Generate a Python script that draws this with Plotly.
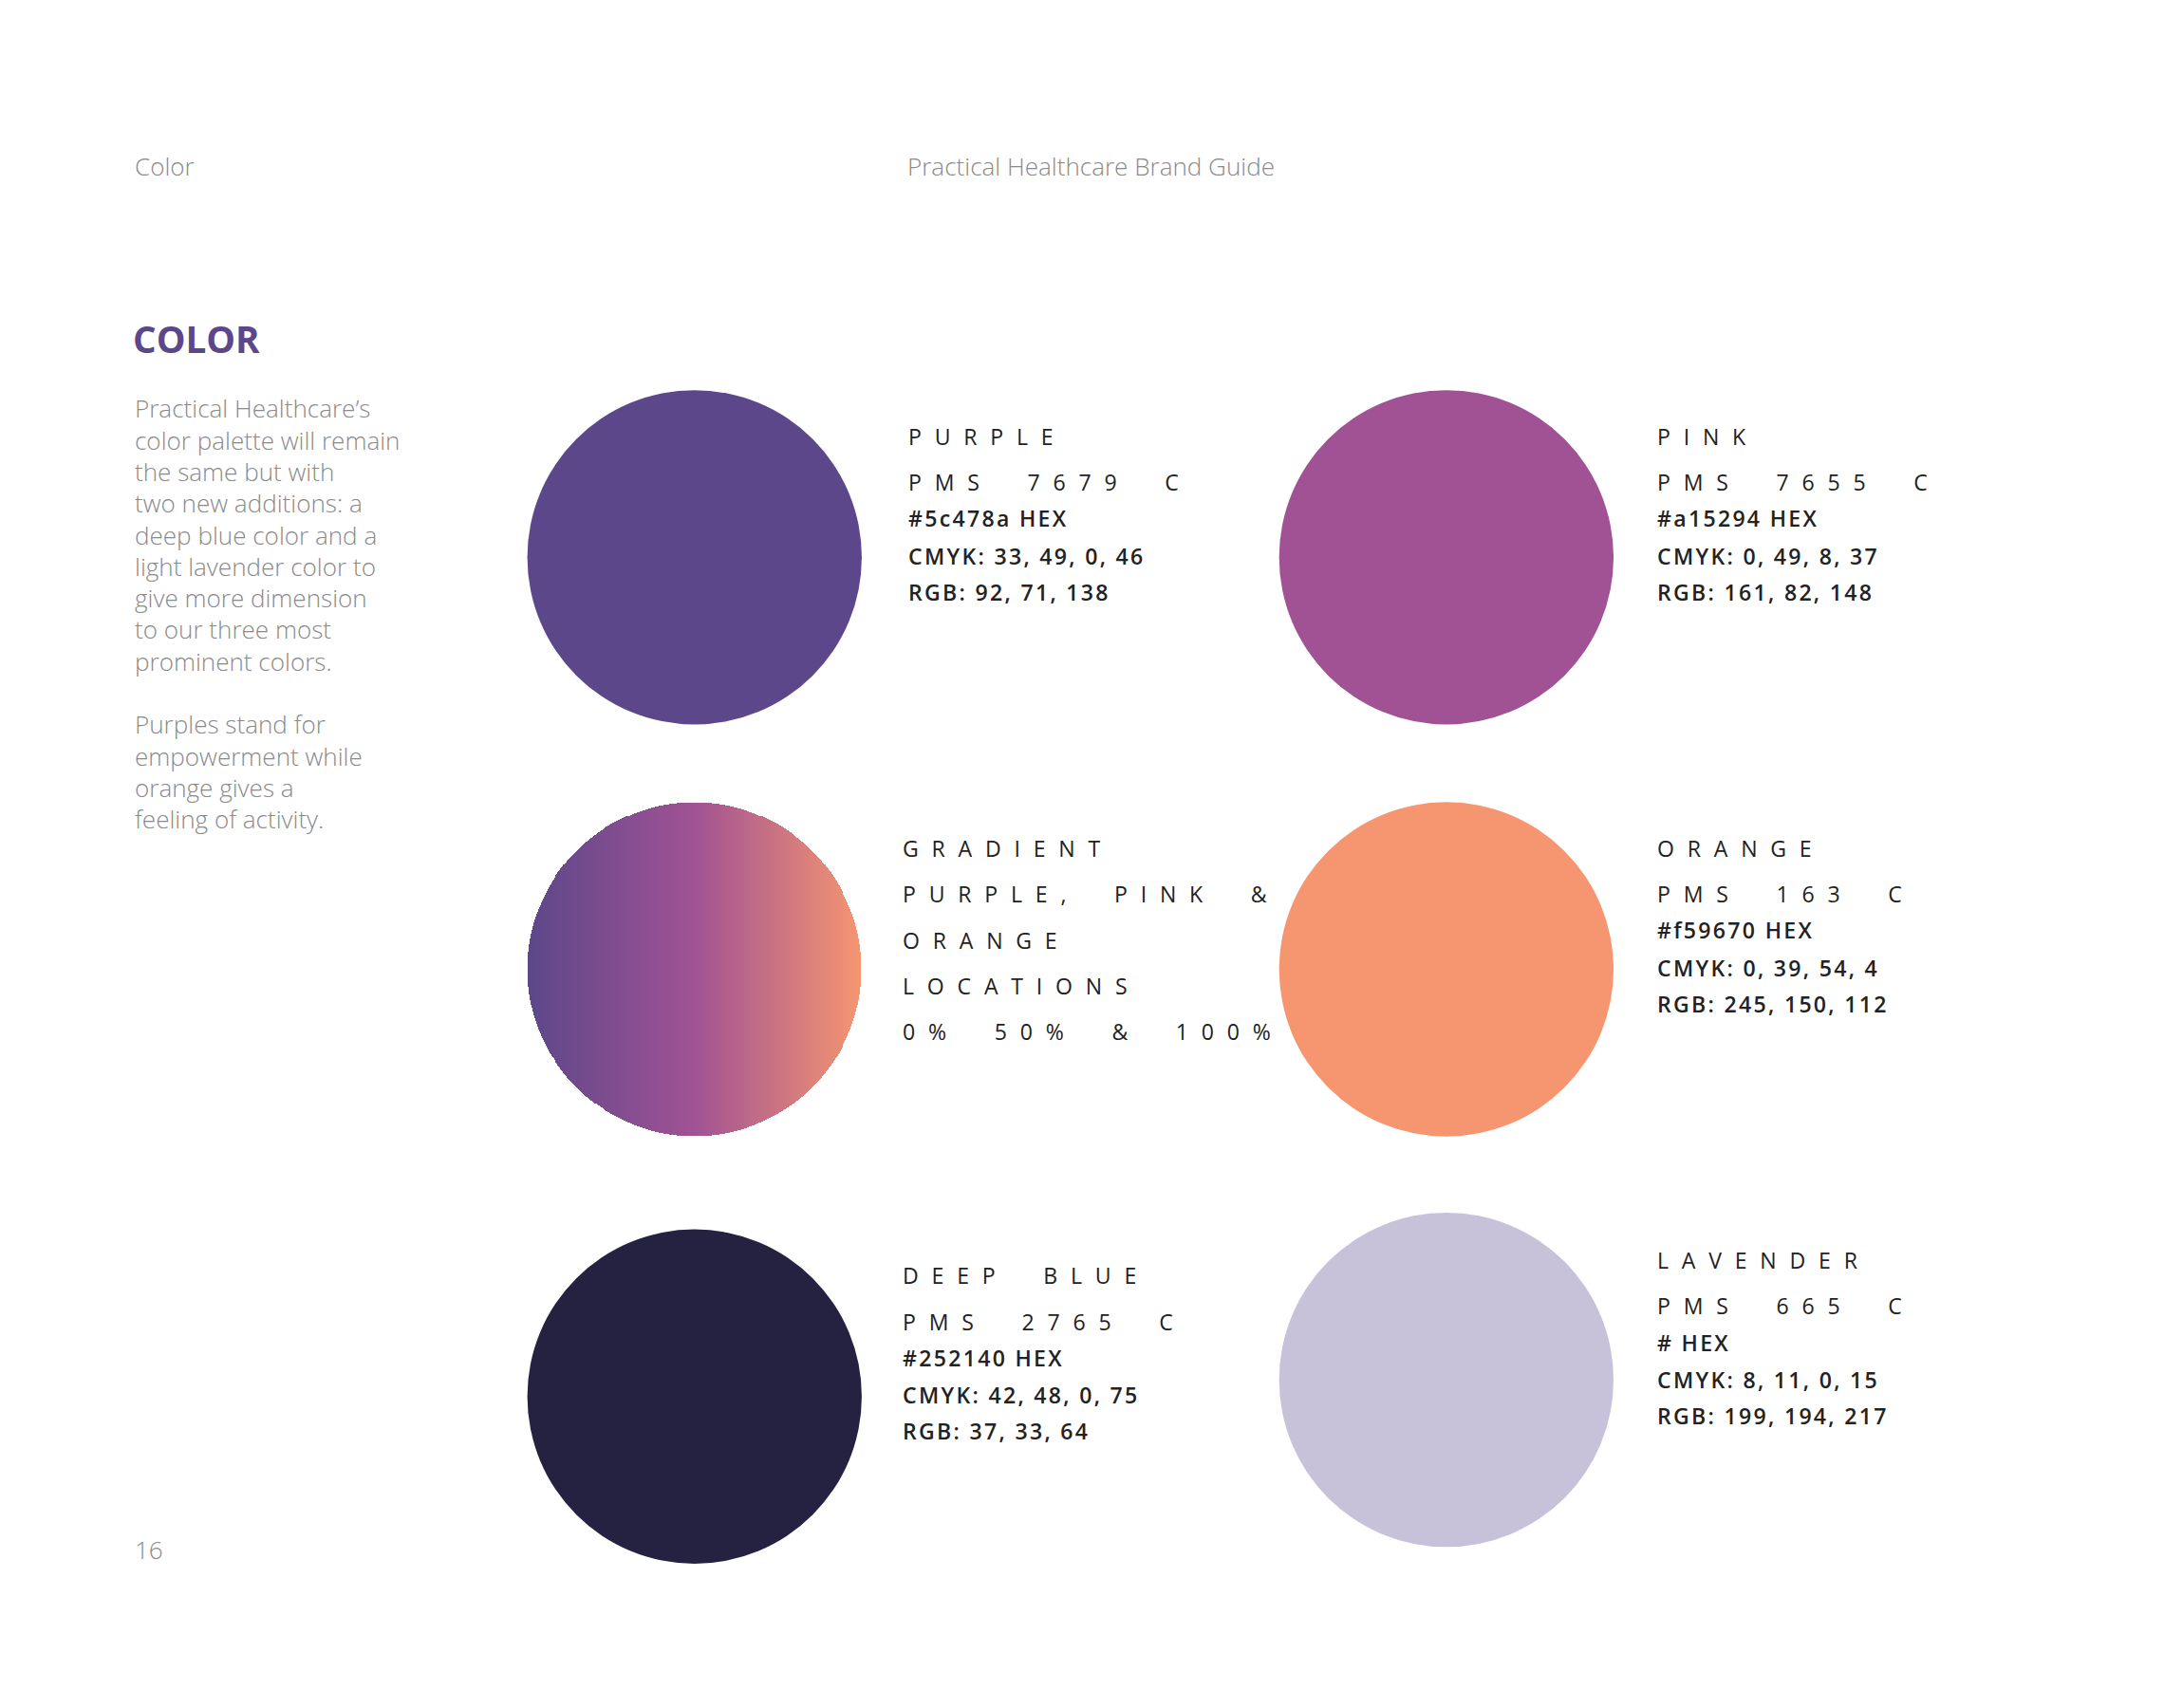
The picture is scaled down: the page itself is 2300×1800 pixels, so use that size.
import numpy as np
import plotly.graph_objects as go

# ---- data ----
swatch_names = ["PURPLE", "PINK", "GRADIENT", "ORANGE", "DEEP BLUE", "LAVENDER"]
swatch_colors = ["#5c478a", "#a15294", None, "#f59670", "#252140", "#c7c2d9"]
pms_lines = ["PMS 7679 C", "PMS 7655 C", "PURPLE, PINK &", "PMS 163 C", "PMS 2765 C", "PMS 665 C"]
hex_lines = ["#5c478a HEX", "#a15294 HEX", "ORANGE", "#f59670 HEX", "#252140 HEX", "# HEX"]
cmyk_lines = ["CMYK: 33, 49, 0, 46", "CMYK: 0, 49, 8, 37", "LOCATIONS", "CMYK: 0, 39, 54, 4",
              "CMYK: 42, 48, 0, 75", "CMYK: 8, 11, 0, 15"]
rgb_lines = ["RGB: 92, 71, 138", "RGB: 161, 82, 148", "0% 50% & 100%", "RGB: 245, 150, 112",
             "RGB: 37, 33, 64", "RGB: 199, 194, 217"]
gradient_stops = [(0.0, "#5c478a"), (0.5, "#a15294"), (1.0, "#f59670")]
body_lines = ["Practical Healthcare’s", "color palette will remain", "the same but with",
              "two new additions: a", "deep blue color and a", "light lavender color to",
              "give more dimension", "to our three most", "prominent colors."]
body_lines2 = ["Purples stand for", "empowerment while", "orange gives a", "feeling of activity."]

# ---- layout ----
S = 2300 / 1545
W, H = 1545, 1800 / S
def TX(x): return (x - 6.5) / 1.013
def TY(y): return (y - 5) / 1.015
centers = [(499, 400), (1038, 400), (499, 696), (1038, 696), (499, 1003), (1038, 991)]
R = 120 / 1.014
text_x = [655, 1192, 651, 1192, 651, 1192]
text_y0 = [313, 313, 609, 609, 916, 905]
grad_offsets = [0, 33, 66, 99, 132]
bold_offsets = [59, 86, 112]
FONT = "Open Sans"

def spaced(s):
    return "\u2009\u2009\u2009\u200A".join("\u2003" if c == " " else c for c in s)

def tracked(s):
    return "\u200A".join(s)

fig = go.Figure()
shapes = []
for (cx, cy), col in zip(centers, swatch_colors):
    if col is None:
        continue
    cx, cy = TX(cx), TY(cy)
    shapes.append(dict(type="circle", xref="x", yref="y", x0=cx - R, x1=cx + R,
                       y0=cy - R, y1=cy + R, fillcolor=col, line=dict(width=0), layer="below"))

gi = swatch_colors.index(None)
gcx, gcy = TX(centers[gi][0]), TY(centers[gi][1])
n = 360
xs = np.linspace(gcx - R, gcx + R, n)
ys = np.linspace(gcy - R, gcy + R, n)
XX, YY = np.meshgrid(xs, ys)
Z = (XX - (gcx - R)) / (2 * R)
Z = np.where((XX - gcx) ** 2 + (YY - gcy) ** 2 <= R * R, Z, np.nan)
fig.add_trace(go.Heatmap(x=xs, y=ys, z=Z, colorscale=[[p, c] for p, c in gradient_stops],
                         zmin=0, zmax=1, showscale=False, hoverinfo="skip"))

ann = []
def add(x, y, t, size, color, weight=400):
    ann.append(dict(x=TX(x), y=TY(y), xref="x", yref="y", text=t, showarrow=False, xanchor="left",
                    yanchor="middle", font=dict(size=size * S, color=color, family=FONT, weight=weight)))

grey = "#8a8a8a"
dark = "#222222"
add(96, 119, "Color", 17.5, grey, 300)
add(650, 119, "Practical Healthcare Brand Guide", 17.5, grey, 300)
add(95, 243, "COLOR", 26, "#5c478a", 700)
for i, l in enumerate(body_lines):
    add(96, 293 + i * 22.7, l, 17.5, grey, 300)
for i, l in enumerate(body_lines2):
    add(96, 520 + i * 22.7, l, 17.5, grey, 300)
add(96, 1113, "16", 17.5, grey, 300)

for i in range(6):
    x, y0 = text_x[i] - 4, text_y0[i]
    if swatch_colors[i] is None:
        rows = [swatch_names[i], pms_lines[i], hex_lines[i], cmyk_lines[i], rgb_lines[i]]
        for off, t in zip(grad_offsets, rows):
            add(x, y0 + off, spaced(t), 15.5, dark, 400)
    else:
        add(x, y0, spaced(swatch_names[i]), 15.5, dark, 400)
        add(x, y0 + 33, spaced(pms_lines[i]), 15.5, dark, 400)
        for off, t in zip(bold_offsets, [hex_lines[i], cmyk_lines[i], rgb_lines[i]]):
            add(x, y0 + off, tracked(t), 15.5, dark, 600)

fig.update_layout(width=2300, height=1800, margin=dict(l=0, r=0, t=0, b=0),
                  paper_bgcolor="white", plot_bgcolor="white", shapes=shapes, annotations=ann,
                  showlegend=False,
                  xaxis=dict(range=[0, W], visible=False, fixedrange=True),
                  yaxis=dict(range=[H, 0], visible=False, fixedrange=True))
fig.write_html("out.html")
